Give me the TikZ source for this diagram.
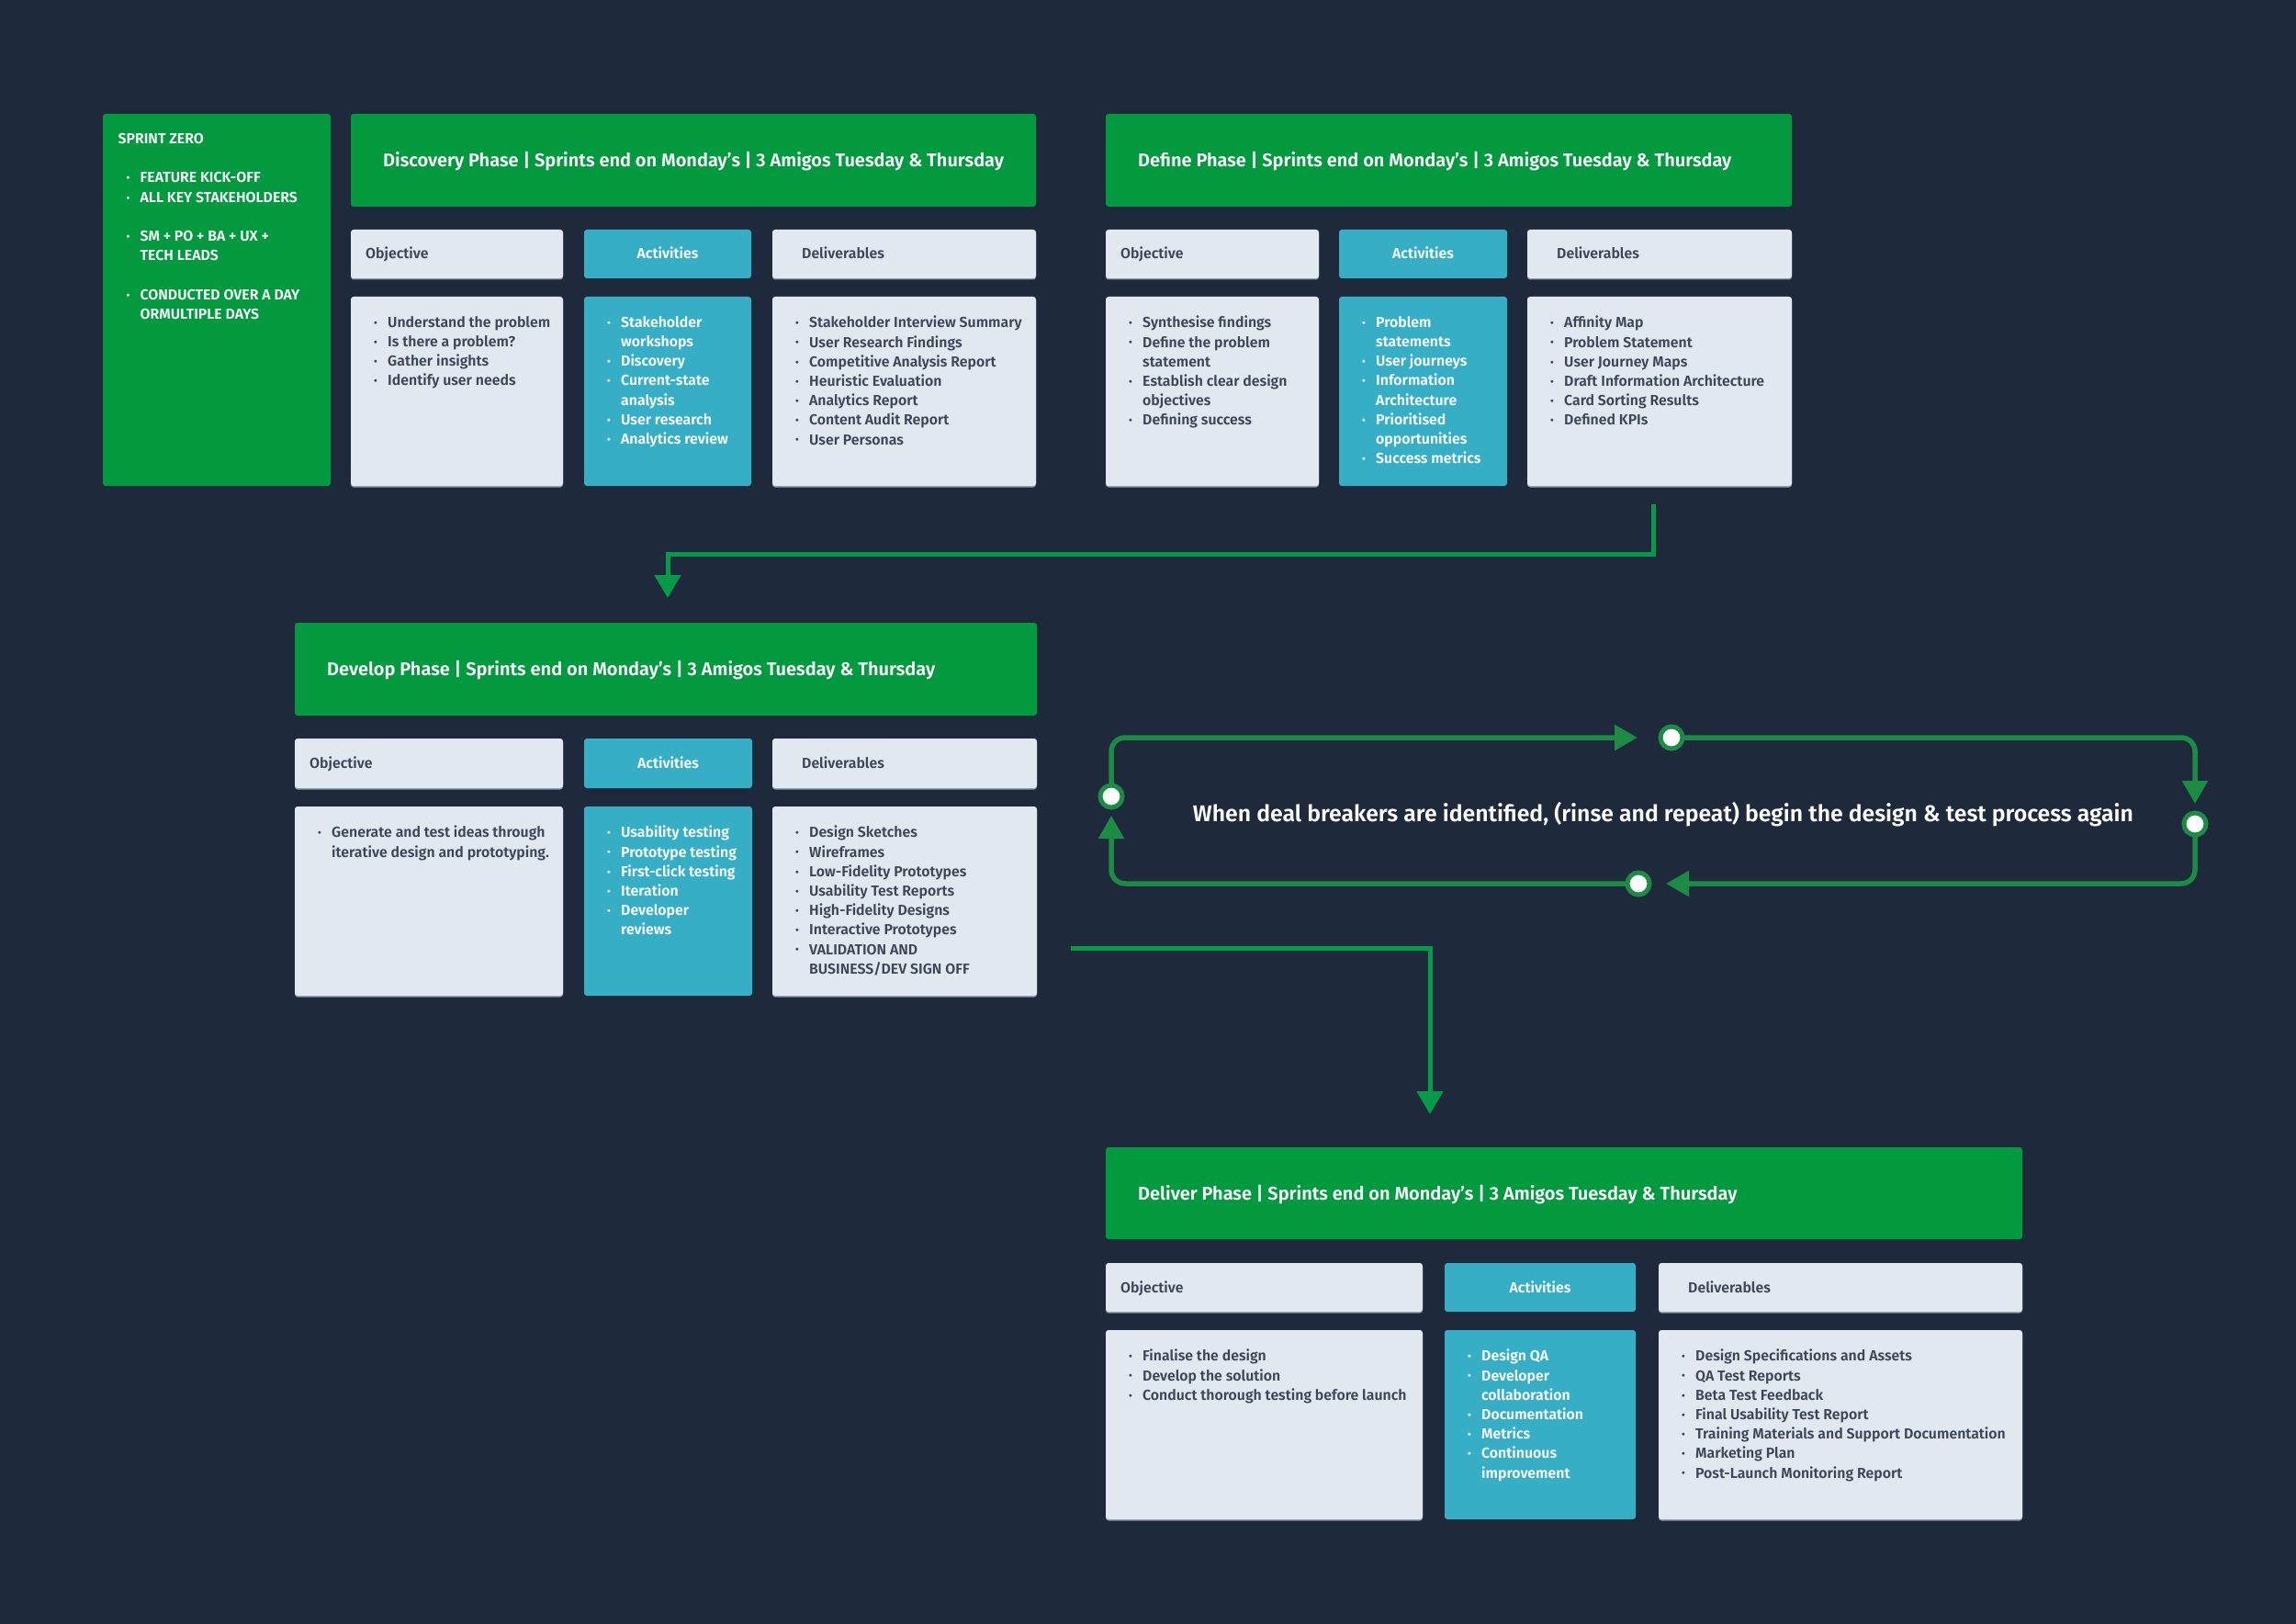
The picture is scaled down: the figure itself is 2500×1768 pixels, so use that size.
\documentclass[tikz,border=0pt]{standalone}
\usepackage{fontspec}
\setmainfont{Fira Sans}[UprightFont={* SemiBold}]
\usetikzlibrary{arrows.meta,calc}
\definecolor{bgc}{HTML}{1E293B}
\definecolor{hdrg}{HTML}{03993F}
\definecolor{tealc}{HTML}{36AEC6}
\definecolor{lightc}{HTML}{E2E8F0}
\definecolor{shadc}{HTML}{8E99AB}
\definecolor{txtc}{HTML}{3B4659}
\definecolor{arrg}{HTML}{049A48}
\definecolor{loopg}{HTML}{1C8B43}
\pgfdeclarelayer{back}\pgfdeclarelayer{bg}
\pgfsetlayers{back,bg,main}
\newcommand\bodyf{\fontsize{15.85}{21.2}\selectfont}
\newcommand\hdrf{\fontsize{20.0}{23}\selectfont}
\newcommand\loopf{\fontsize{24.8}{28}\selectfont}
\newcommand\bi{\rule{0pt}{12pt}\makebox[15pt][l]{\raisebox{1.2pt}{\fontsize{11}{11}\selectfont •}}}
\newcommand\ci{\hspace*{15pt}}
\newcommand\pbox[6]{\node[#1,anchor=north west,inner sep=0pt,outer sep=0pt,minimum width={(#5-#3)*1pt},minimum height={(#6-#4)*1pt}] (#2) at (#3,#4) {};}
\newcommand\blist[4]{\node[anchor=north west,align=left,inner sep=0pt,text=#3,font=\bodyf] (#2) at ($(#1.north west)+(25,21)$) {#4};}
\begin{document}
\begin{tikzpicture}[x=1pt,y=-1pt,
  hdr/.style={fill=hdrg,rounded corners=3pt},
  lbox/.style={fill=lightc,rounded corners=3pt,preaction={fill=shadc,rounded corners=3pt,transform canvas={yshift=-1.5pt}}},
  tbox/.style={fill=tealc,rounded corners=3pt},
  lab/.style={font=\bodyf,text=txtc,inner sep=0pt},
  labw/.style={font=\bodyf,text=white,inner sep=0pt},
  htxt/.style={font=\hdrf,text=white,inner sep=0pt,anchor=base west},
  arr/.style={draw=arrg,line width=5pt,-{Triangle[width=28pt,length=25pt]}},
  larr/.style={draw=loopg,line width=5.5pt,rounded corners=15pt,-{Triangle[width=27pt,length=25pt]}},
  ring/.style={circle,draw=loopg,fill=white,line width=5pt,minimum size=24pt,inner sep=0pt,outer sep=0pt}]
\begin{pgfonlayer}{back}
\fill[bgc] (0,0) rectangle (2500,1768);
\end{pgfonlayer}
\useasboundingbox (0,0) rectangle (2500,1768);

% ---------- Sprint zero ----------
\pbox{hdr}{sz}{112}{124}{360}{529}
\node[anchor=north west,align=left,inner sep=0pt,text=white,font=\bodyf] (szt) at ($(sz.north west)+(16.5,20.4)$)
{\rule{0pt}{12pt}SPRINT ZERO\\ \mbox{}\\
\hspace*{9pt}\bi FEATURE KICK-OFF\\
\hspace*{9pt}\bi ALL KEY STAKEHOLDERS\\ \mbox{}\\
\hspace*{9pt}\bi SM + PO + BA + UX +\\
\hspace*{24pt}TECH LEADS\\ \mbox{}\\
\hspace*{9pt}\bi CONDUCTED OVER A DAY\\
\hspace*{24pt}ORMULTIPLE DAYS};

% ---------- Discovery ----------
\pbox{hdr}{dh}{382}{124}{1128}{225}
\node[htxt] (dht) at ($(dh.west)+(35,7)$) {Discovery Phase | Sprints end on Monday’s | 3 Amigos Tuesday \& Thursday};
\pbox{lbox}{dobjh}{382}{250}{613}{303}
\pbox{tbox}{dacth}{636}{250}{818}{303}
\pbox{lbox}{ddelh}{841}{250}{1128}{303}
\node[lab,anchor=base west] (dobjl) at ($(dobjh.west)+(16,5.5)$) {Objective};
\node[labw,anchor=base] (dactl) at ($(dacth.center)+(0,5.5)$) {Activities};
\node[lab,anchor=base west] (ddell) at ($(ddelh.west)+(32,5.5)$) {Deliverables};
\pbox{lbox}{dobj}{382}{323}{613}{529}
\pbox{tbox}{dact}{636}{323}{818}{529}
\pbox{lbox}{ddel}{841}{323}{1128}{529}
\blist{dobj}{dobjt}{txtc}{\bi Understand the problem\\ \bi Is there a problem?\\ \bi Gather insights\\ \bi Identify user needs}
\blist{dact}{dactt}{white}{\bi Stakeholder\\ \ci workshops\\ \bi Discovery\\ \bi Current-state\\ \ci analysis\\ \bi User research\\ \bi Analytics review}
\blist{ddel}{ddelt}{txtc}{\bi Stakeholder Interview Summary\\ \bi User Research Findings\\ \bi Competitive Analysis Report\\ \bi Heuristic Evaluation\\ \bi Analytics Report\\ \bi Content Audit Report\\ \bi User Personas}

% ---------- Define ----------
\pbox{hdr}{fh}{1204}{124}{1951}{225}
\node[htxt] (fht) at ($(fh.west)+(35,7)$) {Define Phase | Sprints end on Monday’s | 3 Amigos Tuesday \& Thursday};
\pbox{lbox}{fobjh}{1204}{250}{1436}{303}
\pbox{tbox}{facth}{1458}{250}{1641}{303}
\pbox{lbox}{fdelh}{1663}{250}{1951}{303}
\node[lab,anchor=base west] (fobjl) at ($(fobjh.west)+(16,5.5)$) {Objective};
\node[labw,anchor=base] (factl) at ($(facth.center)+(0,5.5)$) {Activities};
\node[lab,anchor=base west] (fdell) at ($(fdelh.west)+(32,5.5)$) {Deliverables};
\pbox{lbox}{fobj}{1204}{323}{1436}{529}
\pbox{tbox}{fact}{1458}{323}{1641}{529}
\pbox{lbox}{fdel}{1663}{323}{1951}{529}
\blist{fobj}{fobjt}{txtc}{\bi Synthesise findings\\ \bi Define the problem\\ \ci statement\\ \bi Establish clear design\\ \ci objectives\\ \bi Defining success}
\blist{fact}{factt}{white}{\bi Problem\\ \ci statements\\ \bi User journeys\\ \bi Information\\ \ci Architecture\\ \bi Prioritised\\ \ci opportunities\\ \bi Success metrics}
\blist{fdel}{fdelt}{txtc}{\bi Affinity Map\\ \bi Problem Statement\\ \bi User Journey Maps\\ \bi Draft Information Architecture\\ \bi Card Sorting Results\\ \bi Defined KPIs}

% ---------- Develop ----------
\pbox{hdr}{vh}{321}{678}{1129}{779}
\node[htxt] (vht) at ($(vh.west)+(35,7)$) {Develop Phase | Sprints end on Monday’s | 3 Amigos Tuesday \& Thursday};
\pbox{lbox}{vobjh}{321}{804}{613}{858}
\pbox{tbox}{vacth}{636}{804}{819}{858}
\pbox{lbox}{vdelh}{841}{804}{1129}{858}
\node[lab,anchor=base west] (vobjl) at ($(vobjh.west)+(16,5.5)$) {Objective};
\node[labw,anchor=base] (vactl) at ($(vacth.center)+(0,5.5)$) {Activities};
\node[lab,anchor=base west] (vdell) at ($(vdelh.west)+(32,5.5)$) {Deliverables};
\pbox{lbox}{vobj}{321}{878}{613}{1084}
\pbox{tbox}{vact}{636}{878}{819}{1084}
\pbox{lbox}{vdel}{841}{878}{1129}{1084}
\blist{vobj}{vobjt}{txtc}{\bi Generate and test ideas through\\ \ci iterative design and prototyping.}
\blist{vact}{vactt}{white}{\bi Usability testing\\ \bi Prototype testing\\ \bi First-click testing\\ \bi Iteration\\ \bi Developer\\ \ci reviews}
\blist{vdel}{vdelt}{txtc}{\bi Design Sketches\\ \bi Wireframes\\ \bi Low-Fidelity Prototypes\\ \bi Usability Test Reports\\ \bi High-Fidelity Designs\\ \bi Interactive Prototypes\\ \bi VALIDATION AND\\ \ci BUSINESS/DEV SIGN OFF}

% ---------- Deliver ----------
\pbox{hdr}{lh}{1204}{1249}{2202}{1349}
\node[htxt] (lht) at ($(lh.west)+(35,7)$) {Deliver Phase | Sprints end on Monday’s | 3 Amigos Tuesday \& Thursday};
\pbox{lbox}{lobjh}{1204}{1375}{1549}{1428}
\pbox{tbox}{lacth}{1573}{1375}{1781}{1428}
\pbox{lbox}{ldelh}{1806}{1375}{2202}{1428}
\node[lab,anchor=base west] (lobjl) at ($(lobjh.west)+(16,5.5)$) {Objective};
\node[labw,anchor=base] (lactl) at ($(lacth.center)+(0,5.5)$) {Activities};
\node[lab,anchor=base west] (ldell) at ($(ldelh.west)+(32,5.5)$) {Deliverables};
\pbox{lbox}{lobj}{1204}{1448}{1549}{1654}
\pbox{tbox}{lact}{1573}{1448}{1781}{1654}
\pbox{lbox}{ldel}{1806}{1448}{2202}{1654}
\blist{lobj}{lobjt}{txtc}{\bi Finalise the design\\ \bi Develop the solution\\ \bi Conduct thorough testing before launch}
\blist{lact}{lactt}{white}{\bi Design QA\\ \bi Developer\\ \ci collaboration\\ \bi Documentation\\ \bi Metrics\\ \bi Continuous\\ \ci improvement}
\blist{ldel}{ldelt}{txtc}{\bi Design Specifications and Assets\\ \bi QA Test Reports\\ \bi Beta Test Feedback\\ \bi Final Usability Test Report\\ \bi Training Materials and Support Documentation\\ \bi Marketing Plan\\ \bi Post-Launch Monitoring Report}

% ---------- Loop ----------
\node[font=\loopf,text=white,inner sep=0pt,anchor=base] (loopt) at (1811,894.5) {When deal breakers are identified, (rinse and repeat) begin the design \& test process again};
\node[ring] (cT) at (1820,803) {};
\node[ring] (cR) at (2390,897) {};
\node[ring] (cB) at (1784,962) {};
\node[ring] (cL) at (1210,867) {};

% ---------- Connectors ----------
\begin{pgfonlayer}{bg}
\draw[arr] ($(fdel.south)+(-7,20)$) -- ++(0,54) -| ($(vh.north)+(2,-27)$);
\draw[arr] ($(vdel.east)+(37,51)$) -| ($(lh.north west)+(353,-36)$);
\draw[larr,shorten >=37pt] (cL.center) |- (cT.center);
\draw[larr,shorten >=22pt] (cT.center) -| (cR.center);
\draw[larr,shorten >=30pt] (cR.center) |- (cB.center);
\draw[larr,shorten >=21pt] (cB.center) -| (cL.center);
\end{pgfonlayer}
\end{tikzpicture}
\end{document}
